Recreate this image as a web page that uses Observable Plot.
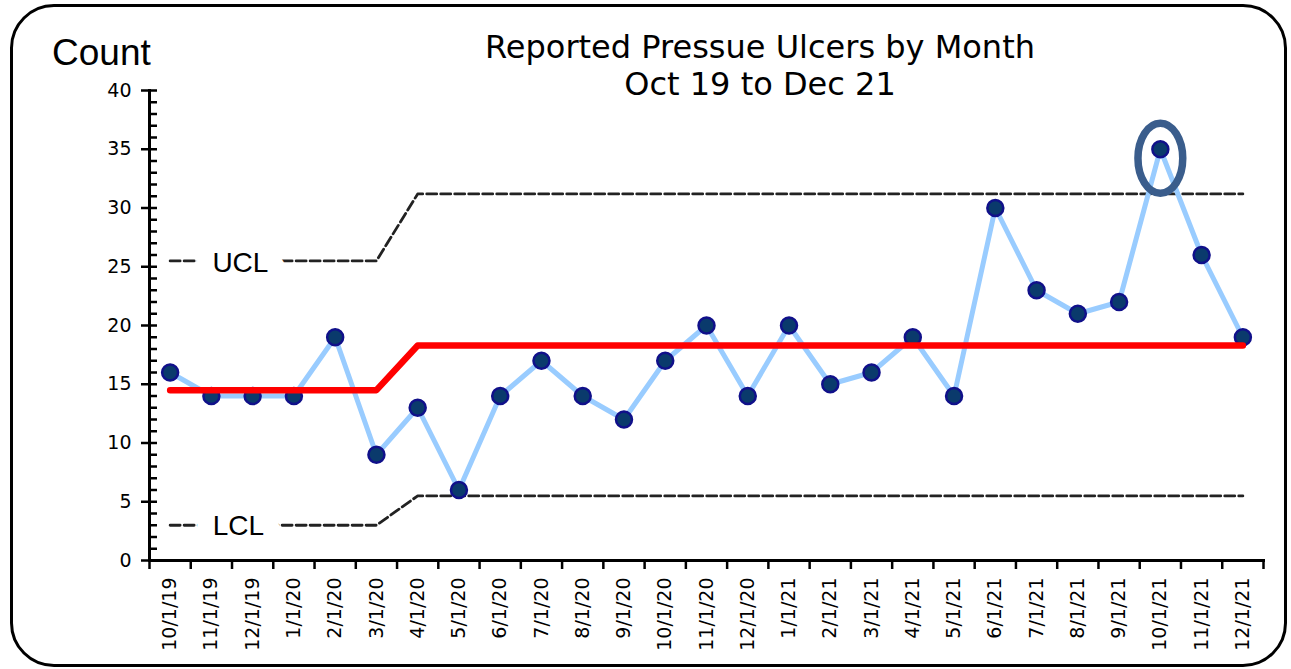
<!DOCTYPE html>
<html>
<head>
<meta charset="utf-8">
<script src="https://cdn.jsdelivr.net/npm/d3@7"></script>
<script src="https://cdn.jsdelivr.net/npm/@observablehq/plot@0.6"></script>
<style>
  html, body { margin: 0; padding: 0; background: #fff; }
  #wrap { position: relative; width: 1291px; height: 669px; overflow: hidden; background: #fff; }
  #wrap svg { position: absolute; left: 0; top: 0; }
  .border { position: absolute; left: 10px; top: 4px; width: 1277px; height: 663px; box-sizing: border-box;
            border: 3px solid #000; border-radius: 44px; pointer-events: none; }
  .title { position: absolute; left: 410px; width: 700px; text-align: center; font-family: "DejaVu Sans", sans-serif;
           font-size: 32px; line-height: 37px; top: 29px; color: #000; }
  .ylab { position: absolute; left: 52px; top: 34px; font-family: "Liberation Sans", Arial, sans-serif; font-size: 37px;
          line-height: 37px; color: #000; }
</style>
</head>
<body>
<div id="wrap">
  <div class="border"></div>
  <div class="title">Reported Pressue Ulcers by Month<br>Oct 19 to Dec 21</div>
  <div class="ylab">Count</div>
</div>
<script>
const months = ["10/1/19","11/1/19","12/1/19","1/1/20","2/1/20","3/1/20","4/1/20","5/1/20","6/1/20","7/1/20","8/1/20","9/1/20","10/1/20","11/1/20","12/1/20","1/1/21","2/1/21","3/1/21","4/1/21","5/1/21","6/1/21","7/1/21","8/1/21","9/1/21","10/1/21","11/1/21","12/1/21"];
const counts = [16,14,14,14,19,9,13,6,14,17,14,12,17,20,14,20,15,16,19,14,30,23,21,22,35,26,19];
const centerLine = [14.5,14.5,14.5,14.5,14.5,14.5,18.3,18.3,18.3,18.3,18.3,18.3,18.3,18.3,18.3,18.3,18.3,18.3,18.3,18.3,18.3,18.3,18.3,18.3,18.3,18.3,18.3];
const ucl = [25.5,25.5,25.5,25.5,25.5,25.5,31.2,31.2,31.2,31.2,31.2,31.2,31.2,31.2,31.2,31.2,31.2,31.2,31.2,31.2,31.2,31.2,31.2,31.2,31.2,31.2,31.2];
const lcl = [3.0,3.0,3.0,3.0,3.0,3.0,5.5,5.5,5.5,5.5,5.5,5.5,5.5,5.5,5.5,5.5,5.5,5.5,5.5,5.5,5.5,5.5,5.5,5.5,5.5,5.5,5.5];
const yTicks = [0,5,10,15,20,25,30,35,40];
const yMinorTicks = [0,1,2,3,4,5,6,7,8,9,10,11,12,13,14,15,16,17,18,19,20,21,22,23,24,25,26,27,28,29,30,31,32,33,34,35,36,37,38,39,40];
const highlighted = ["10/1/21"];

const rows = months.map((m, i) => ({i, month: m, count: counts[i], mean: centerLine[i], ucl: ucl[i], lcl: lcl[i]}));
const xc = d => d.i + 0.5;            // band centre in index units
const edges = months.map((m, i) => i).concat([months.length]);
const centres = months.map((m, i) => i + 0.5);

const ellipse = {
  draw(ctx, size) {
    const r = Math.sqrt(size / Math.PI), rx = r * 0.64, ry = r, k = 0.5523;
    ctx.moveTo(rx, 0);
    ctx.bezierCurveTo(rx, ry * k, rx * k, ry, 0, ry);
    ctx.bezierCurveTo(-rx * k, ry, -rx, ry * k, -rx, 0);
    ctx.bezierCurveTo(-rx, -ry * k, -rx * k, -ry, 0, -ry);
    ctx.bezierCurveTo(rx * k, -ry, rx, -ry * k, rx, 0);
    ctx.closePath();
  }
};

const dash = {stroke: "#222", strokeWidth: 2.8, strokeDasharray: "10,4"};

const chart = Plot.plot({
  width: 1291,
  height: 669,
  marginLeft: 149,
  marginRight: 28,
  marginTop: 90,
  marginBottom: 109,
  style: {background: "transparent", overflow: "visible"},
  x: {type: "linear", domain: [0, months.length]},
  y: {domain: [0, 40]},
  marks: [
    Plot.line(rows, {x: xc, y: "ucl", ...dash}),
    Plot.line(rows, {x: xc, y: "lcl", ...dash}),
    Plot.text(rows.filter(d => d.i === 1), {x: xc, y: "ucl", text: () => "UCL", dx: 29, dy: 2,
      fontFamily: "Liberation Sans, Arial, sans-serif", fontSize: 28, fill: "#000", stroke: "white", strokeWidth: 36}),
    Plot.text(rows.filter(d => d.i === 1), {x: xc, y: "lcl", text: () => "LCL", dx: 27, dy: 1,
      fontFamily: "Liberation Sans, Arial, sans-serif", fontSize: 28, fill: "#000", stroke: "white", strokeWidth: 36}),
    Plot.line(rows, {x: xc, y: "count", stroke: "#99ccff", strokeWidth: 5}),
    Plot.dot(rows, {x: xc, y: "count", r: 8, fill: "#0a3a6c", stroke: "#10108a", strokeWidth: 2.5}),
    Plot.line(rows, {x: xc, y: "mean", stroke: "#ff0000", strokeWidth: 6.5}),
    Plot.dot(rows.filter(d => highlighted.includes(d.month)), {x: xc, y: "count", r: 35, dy: 9,
      symbol: ellipse, fill: "none", stroke: "#3a5d8c", strokeWidth: 7.5}),
    Plot.frame({anchor: "left", stroke: "#000", strokeWidth: 3}),
    Plot.frame({anchor: "bottom", stroke: "#000", strokeWidth: 3}),
    Plot.axisY({ticks: yMinorTicks, tickSize: -8, text: null, strokeWidth: 2.5, label: null}),
    Plot.axisY({ticks: yTicks, tickSize: 8, tickPadding: 10, strokeWidth: 2.5, label: null,
      fontFamily: "DejaVu Sans, sans-serif", fontSize: 19, fill: "#000"}),
    Plot.axisX({ticks: edges, tickSize: 9, text: null, strokeWidth: 2.5, label: null}),
    Plot.axisX({ticks: centres, tickSize: 0, tickPadding: 17, tickRotate: -90, label: null,
      tickFormat: v => months[Math.floor(v)],
      fontFamily: "DejaVu Sans, sans-serif", fontSize: 19, fill: "#000"})
  ]
});
document.getElementById("wrap").prepend(chart);
</script>
</body>
</html>
